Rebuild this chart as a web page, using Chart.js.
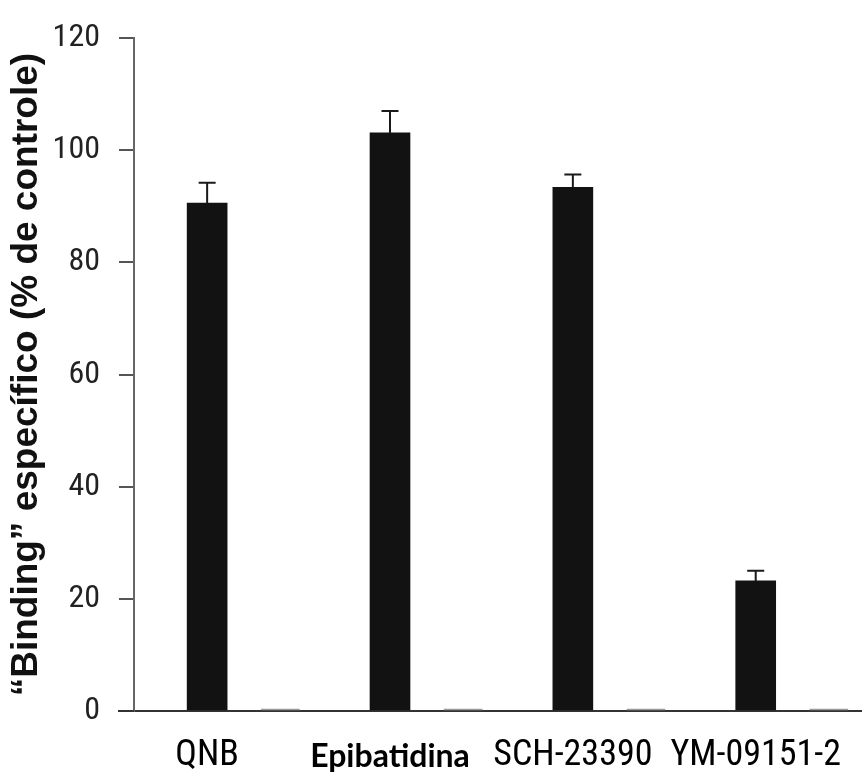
<!DOCTYPE html>
<html>
<head>
<meta charset="utf-8">
<script src="https://cdn.jsdelivr.net/npm/chart.js@4"></script>
<style>
  html, body { margin: 0; padding: 0; background: #ffffff; }
  #wrap { width: 864px; height: 778px; }
</style>
</head>
<body>
<div id="wrap"><canvas id="c" width="864" height="778"></canvas></div>
<script>
const categories = ['QNB', 'Epibatidina', 'SCH-23390', 'YM-09151-2'];
const categoryPos = [1, 2, 3, 4];
const bindingValues = [90.6, 103.1, 93.4, 23.2];
const bindingErrors = [3.6, 3.9, 2.3, 1.8];
const secondPos = [1.4, 2.4, 3.4, 4.4];
const secondValues = [0.35, 0.35, 0.35, 0.35];
const yTicks = [0, 20, 40, 60, 80, 100, 120];
const yTitle = '\u201CBinding\u201D específico (% de controle)';

const errorBars = {
  id: 'errorBars',
  afterDatasetsDraw(chart) {
    const {ctx, scales: {x, y}} = chart;
    ctx.save();
    ctx.strokeStyle = '#1a1a1a';
    ctx.lineWidth = 2;
    bindingValues.forEach((v, i) => {
      const px = x.getPixelForValue(categoryPos[i]);
      const yTop = y.getPixelForValue(v + bindingErrors[i]);
      const yBar = y.getPixelForValue(v);
      ctx.beginPath();
      ctx.moveTo(px, yBar);
      ctx.lineTo(px, yTop);
      ctx.moveTo(px - 8.5, yTop);
      ctx.lineTo(px + 8.5, yTop);
      ctx.stroke();
    });
    const ca = chart.chartArea;
    ctx.strokeStyle = '#333';
    ctx.beginPath();
    ctx.moveTo(118, ca.bottom);
    ctx.lineTo(ca.left, ca.bottom);
    ctx.stroke();
    ctx.restore();
  }
};

new Chart(document.getElementById('c'), {
  type: 'bar',
  data: {
    datasets: [
      {
        data: categoryPos.map((p, i) => ({x: p, y: bindingValues[i]})),
        backgroundColor: '#121212',
        borderWidth: 0,
        barThickness: 40,
        grouped: false
      },
      {
        data: secondPos.map((p, i) => ({x: p, y: secondValues[i]})),
        backgroundColor: '#9a9a9a',
        borderWidth: 0,
        barThickness: 38,
        grouped: false
      }
    ]
  },
  options: {
    responsive: false,
    animation: false,
    layout: { padding: { top: 32, right: 0, bottom: 0, left: 0 } },
    plugins: { legend: { display: false }, tooltip: { enabled: false } },
    scales: {
      x: {
        type: 'linear',
        offset: false,
        min: 0.6,
        max: 4.58,
        afterBuildTicks: (s) => { s.ticks = categoryPos.map(v => ({value: v})); },
        afterFit: (s) => { s.height = 67; },
        grid: { display: false, drawTicks: false },
        border: { display: true, color: '#333', width: 2 },
        ticks: {
          padding: 23,
          maxRotation: 0,
          autoSkip: false,
          color: '#000',
          callback: (v) => categories[categoryPos.indexOf(v)] ?? '',
          font: (ctx) => ctx.index === 1
            ? { family: 'Lato', size: 32, weight: 'bold', lineHeight: 1.4 }
            : { family: '"Roboto Condensed", "Liberation Sans", sans-serif', size: 36 }
        }
      },
      y: {
        min: 0,
        max: 120,
        afterBuildTicks: (s) => { s.ticks = yTicks.map(v => ({value: v})); },
        afterFit: (s) => { s.width = 134; },
        grid: { display: true, drawOnChartArea: false, drawTicks: true, tickLength: 15, color: '#555', lineWidth: 2 },
        border: { display: true, color: '#666', width: 2 },
        ticks: {
          padding: 19,
          color: '#222',
          font: { family: '"Roboto Condensed", "Liberation Sans", sans-serif', size: 32 }
        },
        title: {
          display: true,
          text: yTitle,
          color: '#111',
          padding: { top: 5, bottom: 0 },
          font: { family: '"Liberation Sans", Arial, sans-serif', size: 37, weight: 'bold' }
        }
      }
    }
  },
  plugins: [errorBars]
});
</script>
</body>
</html>
